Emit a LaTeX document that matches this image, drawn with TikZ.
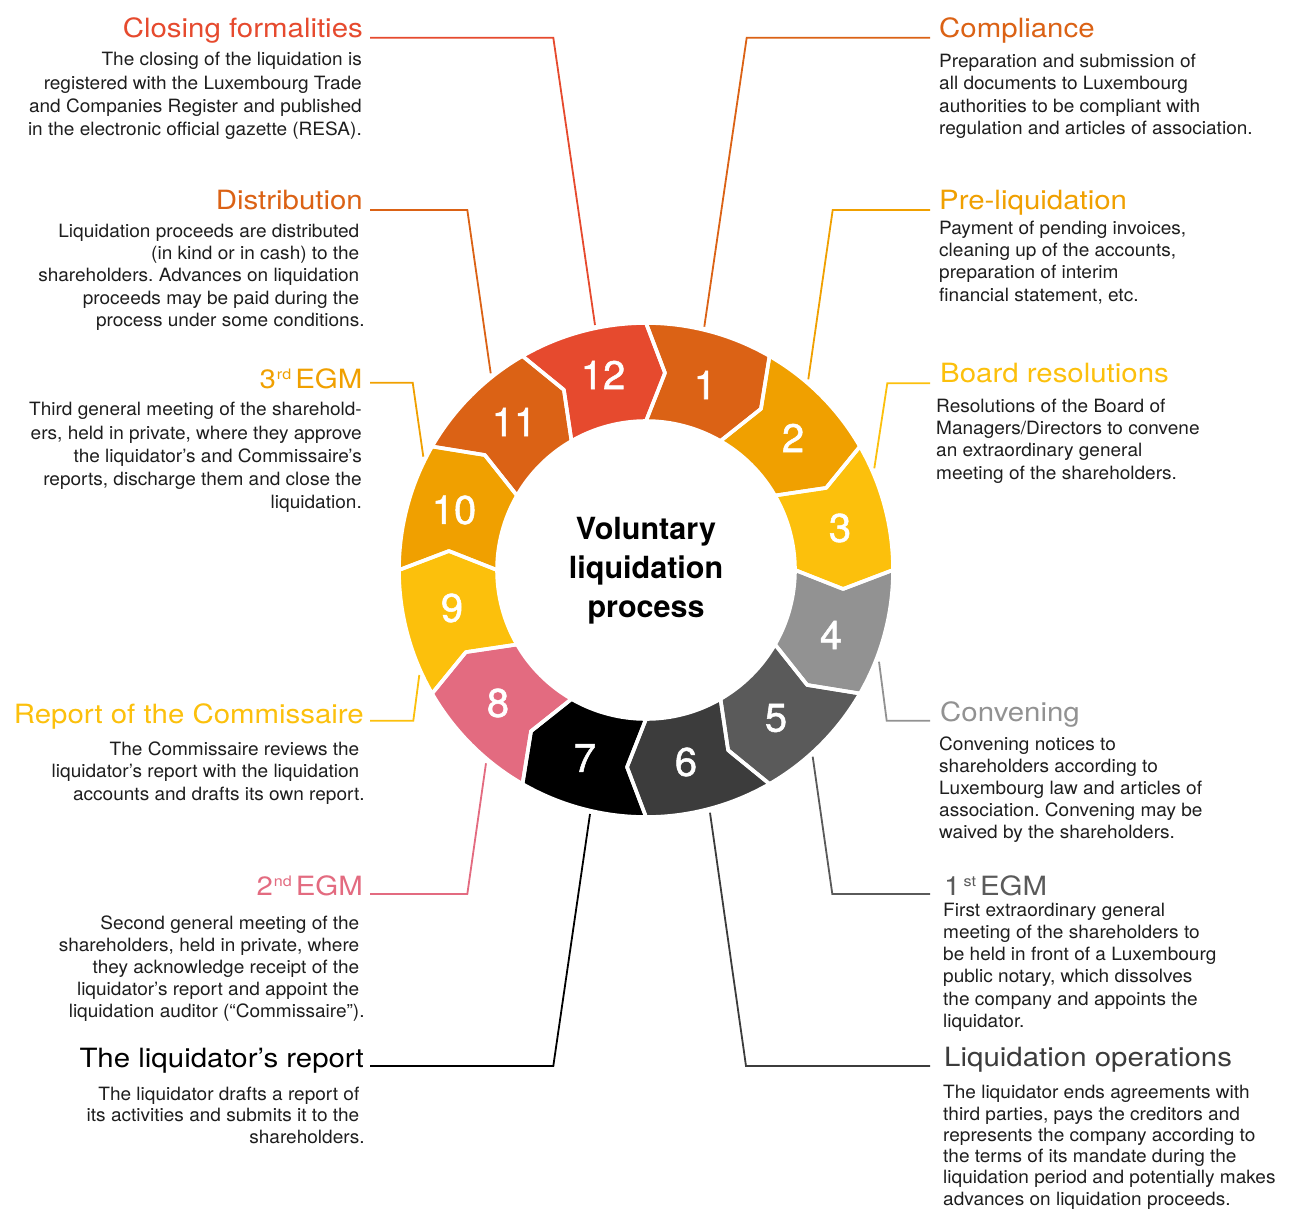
\documentclass[tikz,border=0pt]{standalone}
\usepackage{fontspec}
\setmainfont{TeX Gyre Heros}
\newfontfamily\bodyfont[FakeStretch=1.04]{TeX Gyre Heros}
\newfontfamily\headfont[FakeStretch=1.11]{TeX Gyre Heros}
\newfontfamily\numfont[FakeBold=1.3]{TeX Gyre Heros}
\frenchspacing
\definecolor{cRd}{HTML}{E64A2E}
\definecolor{cOr}{HTML}{DB6215}
\definecolor{cTa}{HTML}{F0A000}
\definecolor{cYe}{HTML}{FCC00C}
\definecolor{cGf}{HTML}{929292}
\definecolor{cGv}{HTML}{5A5A5A}
\definecolor{cGs}{HTML}{3C3C3C}
\definecolor{cPk}{HTML}{E36B80}
\definecolor{bodytxt}{HTML}{1E1E1E}
\newcommand\supsc[1]{\raisebox{9pt}{\fontsize{14.5}{14.5}\selectfont #1}}
\tikzset{
  headL/.style={font=\headfont\fontsize{26.5}{30}\selectfont, anchor=base east, inner sep=0pt},
  headR/.style={font=\headfont\fontsize{26.5}{30}\selectfont, anchor=base west, inner sep=0pt},
  bodyL/.style={font=\bodyfont\frenchspacing\fontsize{18.3}{#1}\selectfont, align=right, anchor=north east, inner sep=0pt, text=bodytxt},
  bodyR/.style={font=\bodyfont\frenchspacing\fontsize{18.3}{#1}\selectfont, align=left, anchor=north west, inner sep=0pt, text=bodytxt},
  numlbl/.style={font=\numfont\fontsize{40}{40}\selectfont, text=white, inner sep=0pt},
  titletext/.style={font=\bfseries\fontsize{30.5}{39}\selectfont, align=center, inner sep=0pt},
  conn/.style={line width=1.8pt, line join=miter}
}
\begin{document}
\begin{tikzpicture}[x=1pt,y=1pt]
\useasboundingbox (0,0) rectangle (1297,-1214);
\fill[white] (0,0) rectangle (1297,-1214);

% ring
\begin{scope}[shift={(646,-570)}]
\foreach \k/\c in {1/cOr,2/cTa,3/cYe,4/cGf,5/cGv,6/cGs,7/black,8/cPk,9/cYe,10/cTa,11/cOr,12/cRd}{
  \pgfmathsetmacro\a{120-30*\k}
  \pgfmathsetmacro\b{\a-30}
  \pgfmathsetmacro\at{\a-5.5}
  \pgfmathsetmacro\bt{\b-5.5}
  \fill[\c] (\a:247) arc[start angle=\a,end angle=\b,radius=247] -- (\bt:198) -- (\b:149) arc[start angle=\b,end angle=\a,radius=149] -- (\at:198) -- cycle;
}
\foreach \k in {1,...,12}{
  \pgfmathsetmacro\a{120-30*\k}
  \pgfmathsetmacro\b{\a-30}
  \pgfmathsetmacro\at{\a-5.5}
  \pgfmathsetmacro\bt{\b-5.5}
  \draw[white, line width=3.6pt, line join=round] (\a:247) arc[start angle=\a,end angle=\b,radius=247] -- (\bt:198) -- (\b:149) arc[start angle=\b,end angle=\a,radius=149] -- (\at:198) -- cycle;
}
\node[titletext] (title) at (0,-1) {Voluntary\\liquidation\\process};
\end{scope}

% segment numbers
\foreach \k/\x/\y in {1/705/385,2/793/438,3/840/528,4/831/635,5/776/718,6/686/762,7/585/758,8/498/703,9/452/608,10/454/510,11/514/422,12/603/375}{
  \node[numlbl] (n\k) at (\x,-\y) {\k};
}

% connector coordinates
\coordinate (s12) at (370,-37.7);  \coordinate (k12) at (553.3,-37.7);  \coordinate (e12) at (595,-325);
\coordinate (s1)  at (930,-37.7);  \coordinate (k1)  at (746.7,-37.7);  \coordinate (e1)  at (704.3,-326.7);
\coordinate (s11) at (370,-210);   \coordinate (k11) at (467.3,-210);   \coordinate (e11) at (490.7,-373.3);
\coordinate (s2)  at (930,-210);   \coordinate (k2)  at (832.7,-210);   \coordinate (e2)  at (808.3,-379.3);
\coordinate (s10) at (370,-382.7); \coordinate (k10) at (412.7,-382.7); \coordinate (e10) at (423.3,-456.7);
\coordinate (s3)  at (930,-383.3); \coordinate (k3)  at (887.3,-383.3); \coordinate (e3)  at (874.3,-468.3);
\coordinate (s9)  at (370,-720.7); \coordinate (k9)  at (413.3,-720.7); \coordinate (e9)  at (419.3,-675);
\coordinate (s4)  at (930,-720.7); \coordinate (k4)  at (886.7,-720.7); \coordinate (e4)  at (879,-661.7);
\coordinate (s8)  at (370,-894);   \coordinate (k8)  at (467.3,-894);   \coordinate (e8)  at (486,-763.3);
\coordinate (s5)  at (930,-894);   \coordinate (k5)  at (832.3,-894);   \coordinate (e5)  at (812.7,-756.7);
\coordinate (s7)  at (370,-1066);  \coordinate (k7)  at (553.3,-1066);  \coordinate (e7)  at (590,-814);
\coordinate (s6)  at (930,-1066);  \coordinate (k6)  at (746,-1066);    \coordinate (e6)  at (710,-812.7);

\draw[conn, cRd] (s12) -- (k12) -- (e12);
\draw[conn, cOr] (s1) -- (k1) -- (e1);
\draw[conn, cOr] (s11) -- (k11) -- (e11);
\draw[conn, cTa] (s2) -- (k2) -- (e2);
\draw[conn, cTa] (s10) -- (k10) -- (e10);
\draw[conn, cYe] (s3) -- (k3) -- (e3);
\draw[conn, cYe] (s9) -- (k9) -- (e9);
\draw[conn, cGf] (s4) -- (k4) -- (e4);
\draw[conn, cPk] (s8) -- (k8) -- (e8);
\draw[conn, cGv] (s5) -- (k5) -- (e5);
\draw[conn, black] (s7) -- (k7) -- (e7);
\draw[conn, cGs] (s6) -- (k6) -- (e6);

% left headings and bodies
\node[headL, text=cRd] (h12) at (363,-37.5) {Closing formalities};
\node[bodyL=23.3] (b12) at (362,-49.2) {\strut The closing of the liquidation is\\registered with the Luxembourg Trade\\and Companies Register and published\\in the electronic official gazette (RESA).};

\node[headL, text=cOr] (h11) at (363,-209.5) {Distribution};
\node[bodyL=22.3] (b11) at (359.5,-221.4) {\strut Liquidation proceeds are distributed\\(in kind or in cash) to the\\shareholders. Advances on liquidation\\proceeds may be paid during the\\process under some conditions\rlap{.}};

\node[headL, text=cTa] (h10) at (362.5,-388.5) {3\kern1pt\supsc{rd}\kern4pt EGM};
\node[bodyL=23.2] (b10) at (362,-399.5) {\strut Third general meeting of the sharehold-\\ers, held in private, where they approve\\the liquidator’s and Commissaire’s\\reports, discharge them and close the\\liquidation.};

\node[headL, text=cYe] (h9) at (364,-723) {Report of the Commissaire};
\node[bodyL=22.5] (b9) at (359.5,-739.3) {\strut The Commissaire reviews the\\liquidator’s report with the liquidation\\accounts and drafts its own report\rlap{.}};

\node[headL, text=cPk] (h8) at (363,-895.7) {2\kern1pt\supsc{nd}\kern4pt EGM};
\node[bodyL=22.1] (b8) at (359.5,-913.5) {\strut Second general meeting of the\\shareholders, held in private, where\\they acknowledge receipt of the\\liquidator’s report and appoint the\\liquidation auditor (“Commissaire”)\rlap{.}};

\node[headL, text=black] (h7) at (364,-1067.3) {The liquidator’s report};
\node[bodyL=21.7] (b7) at (359.5,-1084.8) {\strut The liquidator drafts a report of\\its activities and submits it to the\\shareholders\rlap{.}};

% right headings and bodies
\node[headR, text=cOr] (h1) at (939,-37.5) {Compliance};
\node[bodyR=22.2] (b1) at (939,-52) {\strut Preparation and submission of\\all documents to Luxembourg\\authorities to be compliant with\\regulation and articles of association.};

\node[headR, text=cTa] (h2) at (939,-209.5) {Pre-liquidation};
\node[bodyR=22.3] (b2) at (939,-218.4) {\strut Payment of pending invoices,\\cleaning up of the accounts,\\preparation of interim\\financial statement, etc.};

\node[headR, text=cYe] (h3) at (940,-382.5) {Board resolutions};
\node[bodyR=22.3] (b3) at (936,-396.4) {\strut Resolutions of the Board of\\Managers/Directors to convene\\an extraordinary general\\meeting of the shareholders.};

\node[headR, text=cGf] (h4) at (940,-721.5) {Convening};
\node[bodyR=22] (b4) at (939,-734.6) {\strut Convening notices to\\shareholders according to\\Luxembourg law and articles of\\association. Convening may be\\waived by the shareholders.};

\node[headR, text=cGv] (h5) at (944,-895) {1\kern3pt\supsc{st}\kern4pt EGM};
\node[bodyR=22.2] (b5) at (943,-900.5) {\strut First extraordinary general\\meeting of the shareholders to\\be held in front of a Luxembourg\\public notary, which dissolves\\the company and appoints the\\liquidator.};

\node[headR, text=cGs] (h6) at (944,-1066.5) {Liquidation operations};
\node[bodyR=21.3] (b6) at (943,-1083.6) {\strut The liquidator ends agreements with\\third parties, pays the creditors and\\represents the company according to\\the terms of its mandate during the\\liquidation period and potentially makes\\advances on liquidation proceeds.};
\end{tikzpicture}
\end{document}
